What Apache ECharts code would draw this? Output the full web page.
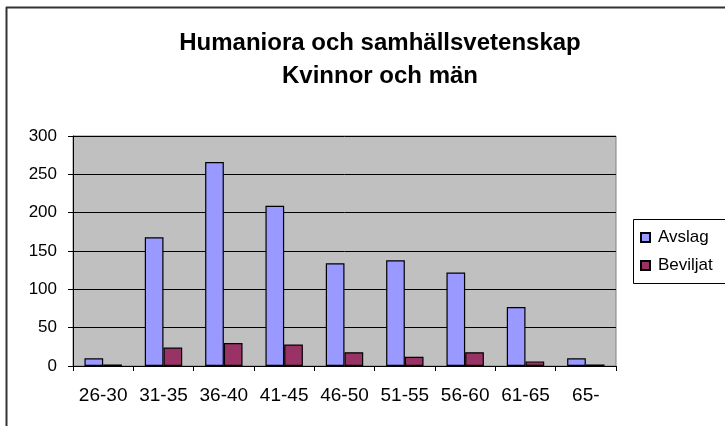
<!DOCTYPE html>
<html>
<head>
<meta charset="utf-8">
<script src="https://cdn.jsdelivr.net/npm/echarts@6/dist/echarts.min.js"></script>
<style>
  html, body { margin: 0; padding: 0; background: #fff; }
  #chart { width: 725px; height: 426px; }
</style>
</head>
<body>
<div id="chart"></div>
<script>
const categories = ['26-30', '31-35', '36-40', '41-45', '46-50', '51-55', '56-60', '61-65', '65-'];
const avslag = [10, 168, 266, 209, 134, 138, 122, 77, 10];
const beviljat = [2, 24, 30, 28, 18, 12, 18, 6, 2];
const yTicks = [0, 50, 100, 150, 200, 250, 300];

const font = "'Liberation Sans', Arial, sans-serif";

const chart = echarts.init(document.getElementById('chart'));

const option = {
  backgroundColor: '#fff',
  animation: false,
  title: {
    text: 'Humaniora och samhällsvetenskap\nKvinnor och män',
    left: 375,
    top: 22,
    textAlign: 'center',
    textStyle: {
      fontFamily: font,
      fontSize: 24,
      fontWeight: 'bold',
      color: '#000',
      lineHeight: 33
    }
  },
  legend: {
    orient: 'vertical',
    left: 633,
    top: 219,
    padding: [9, 10, 9, 7],
    itemGap: 9,
    itemWidth: 9,
    itemHeight: 9,
    icon: 'rect',
    textStyle: { fontFamily: font, fontSize: 17, color: '#000', lineHeight: 19, padding: [0, 0, 0, 3] },
    data: ['Avslag', 'Beviljat']
  },
  grid: {
    left: 73,
    right: 109,
    top: 136,
    bottom: 60,
    show: true,
    backgroundColor: '#C0C0C0',
    borderColor: '#808080',
    borderWidth: 1
  },
  xAxis: {
    type: 'category',
    data: categories,
    axisLine: { lineStyle: { color: '#000', width: 1 } },
    axisTick: { show: true, length: 5, lineStyle: { color: '#000' } },
    axisLabel: { fontFamily: font, fontSize: 19, color: '#000', margin: 20, interval: 0 }
  },
  yAxis: {
    type: 'value',
    min: yTicks[0],
    max: yTicks[yTicks.length - 1],
    interval: 50,
    axisLine: { show: true, lineStyle: { color: '#000', width: 1 } },
    axisTick: { show: true, length: 5, lineStyle: { color: '#000' } },
    axisLabel: { fontFamily: font, fontSize: 17, color: '#000', margin: 16 },
    splitLine: { show: true, lineStyle: { color: '#000', width: 1 } }
  },
  series: [
    {
      name: 'Avslag',
      type: 'bar',
      data: avslag,
      barGap: '0%',
      barCategoryGap: '38%',
      itemStyle: { color: '#9999FF', borderColor: '#000', borderWidth: 1.2 }
    },
    {
      name: 'Beviljat',
      type: 'bar',
      data: beviljat,
      itemStyle: { color: '#993366', borderColor: '#000', borderWidth: 1.2 }
    }
  ],
  graphic: [
    { type: 'line', shape: { x1: 6, y1: 7.5, x2: 725, y2: 7.5 }, style: { stroke: '#333', lineWidth: 2 } },
    { type: 'line', shape: { x1: 6.5, y1: 7, x2: 6.5, y2: 426 }, style: { stroke: '#333', lineWidth: 2 } },
    // legend frame, runs off the right edge like the original
    { type: 'rect', z: -1, shape: { x: 633.5, y: 219.5, width: 120, height: 64 }, style: { fill: 'none', stroke: '#000', lineWidth: 1 } }
  ]
};

chart.setOption(option);
</script>
</body>
</html>
